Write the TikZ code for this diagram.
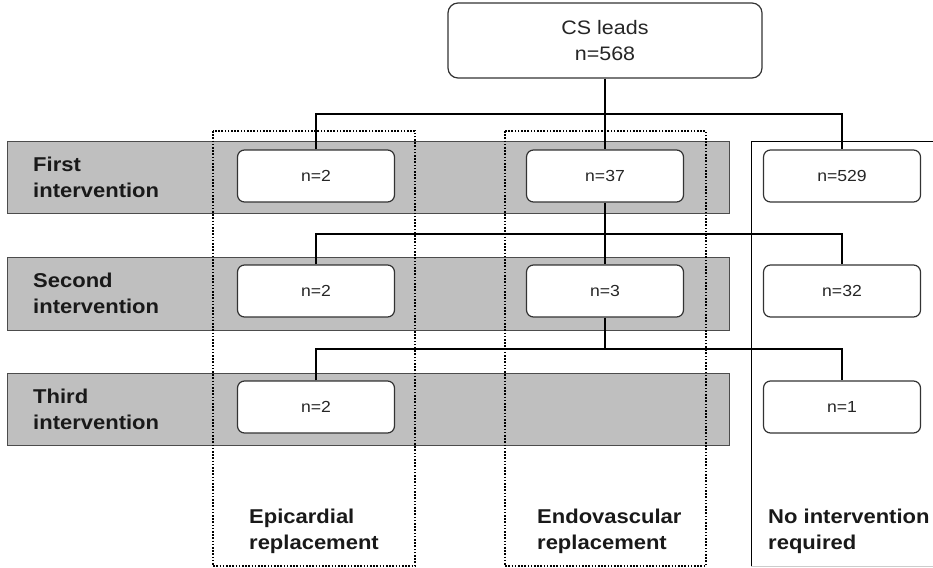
\documentclass[tikz,border=0pt]{standalone}
\usepackage{fontspec}
\setmainfont{Liberation Sans}[FakeStretch=1.1]
\usetikzlibrary{positioning}

\begin{document}
\begin{tikzpicture}[
    x=1pt, y=-1pt,
    band/.style={draw=black!70, fill=black!25, line width=0.8pt},
    group/.style={draw=black, line width=1.6pt, dash pattern=on 1.6pt off 1.6pt},
    countbox/.style={rectangle, draw=black!80, fill=white, rounded corners=7pt, line width=1.2pt, minimum width=157pt, minimum height=52pt, align=center, text=black!85, font=\fontsize{16}{26}\selectfont},
    rowlabel/.style={anchor=west, align=left, inner sep=0pt, text=black!90, font=\fontsize{20}{26}\selectfont\bfseries},
    link/.style={line width=2pt}
]
\useasboundingbox (0,0) rectangle (933,567);

% Rows
\draw[band] (7,141) rectangle (729,213);
\draw[band] (7,257) rectangle (729,330);
\draw[band] (7,373) rectangle (729,445);

% Column groups
\draw[group] (213,131) rectangle (415,566);
\draw[group] (505,131) rectangle (706,566);
\draw[line width=0.8pt] (940,141) -- (751,141) -- (751,567);
\draw[black!20, line width=0.8pt] (751,566) -- (933,566);

\node[countbox, minimum width=314pt, minimum height=75pt, rounded corners=10pt, font=\fontsize{19.5}{26}\selectfont] (cs) at (605,40.5) {CS leads\\n=568};

\node[countbox] (epi1) at (316,176) {n=2};
\node[countbox] (endo1) at (605,176) {n=37};
\node[countbox] (none1) at (842,176) {n=529};

\node[countbox] (epi2) at (316,291) {n=2};
\node[countbox] (endo2) at (605,291) {n=3};
\node[countbox] (none2) at (842,291) {n=32};

\node[countbox] (epi3) at (316,407) {n=2};
\node[countbox] (none3) at (842,407) {n=1};

\coordinate (split1) at (605,114);
\coordinate (split2) at (605,234);
\coordinate (split3) at (605,349);

\draw[link] (cs) -- (endo1);
\draw[link] (epi1.north) |- (split1) -| (none1.north);
\draw[link] (endo1) -- (endo2);
\draw[link] (epi2.north) |- (split2) -| (none2.north);
\draw[link] (endo2) -- (split3);
\draw[link] (epi3.north) |- (split3) -| (none3.north);

% Labels
\node[rowlabel] (first) at (33,177) {First\\intervention};
\node[rowlabel] (second) at (33,293) {Second\\intervention};
\node[rowlabel] (third) at (33,409) {Third\\intervention};

\node[rowlabel] (epilabel) at (249,531) {Epicardial\\replacement};
\node[rowlabel] (endolabel) at (537,531) {Endovascular\\replacement};
\node[rowlabel] (nonelabel) at (768,531) {No intervention\\required};

\end{tikzpicture}
\end{document}
